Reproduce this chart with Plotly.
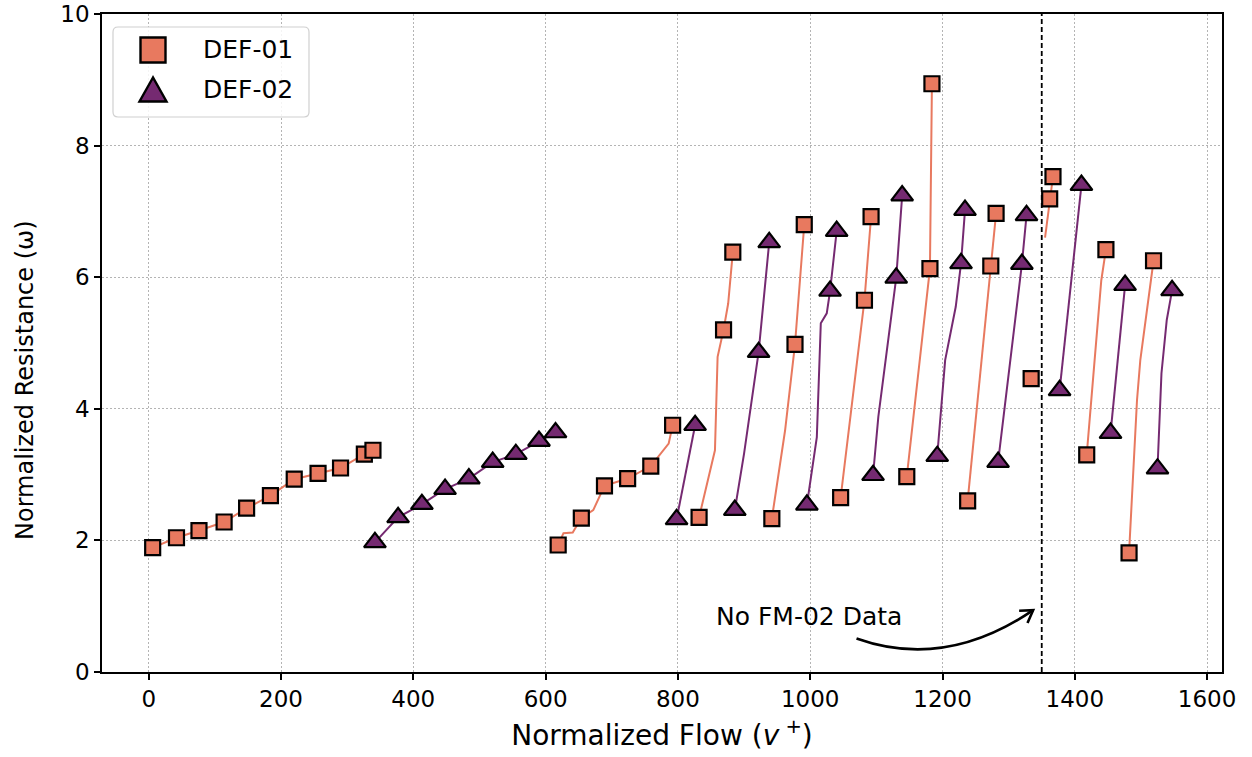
import math
import plotly.graph_objects as go

# ---------------- data ----------------
# DEF-01 marker points
def01_flow = [6, 42, 76, 114, 148, 184, 220, 256, 290, 326, 339,
              619, 654, 689, 724, 759, 792,
              832, 869, 883,
              942, 977, 991,
              1046, 1082, 1092,
              1146, 1181, 1184,
              1238, 1273, 1281,
              1334,
              1362, 1367,
              1418, 1447,
              1482, 1519]
def01_res = [1.89, 2.04, 2.15, 2.28, 2.49, 2.68, 2.93, 3.02, 3.10, 3.31, 3.37,
             1.93, 2.34, 2.83, 2.94, 3.13, 3.75,
             2.35, 5.20, 6.38,
             2.33, 4.98, 6.80,
             2.65, 5.65, 6.92,
             2.97, 6.13, 8.94,
             2.60, 6.17, 6.97,
             4.46,
             7.19, 7.53,
             3.30, 6.42,
             1.81, 6.25]

# DEF-01 continuous traces (None separates the sweeps)
def01_line_flow = [6, 42, 76, 114, 148, 184, 220, 256, 290, 326, 339, None,
                   619, 627, 641, 654, 672, 689, 724, 759, 786, 792, None,
                   832, 856, 860, 869, 876, 883, None,
                   942, 962, 977, 991, None,
                   1046, 1082, 1092, None,
                   1146, 1181, 1184, None,
                   1238, 1273, 1281, None,
                   1355, 1362, 1367, None,
                   1418, 1440, 1447, None,
                   1482, 1494, 1499, 1519]
def01_line_res = [1.89, 2.04, 2.15, 2.28, 2.49, 2.68, 2.93, 3.02, 3.10, 3.31, 3.37, None,
                  1.93, 2.11, 2.12, 2.34, 2.46, 2.83, 2.94, 3.13, 3.47, 3.75, None,
                  2.35, 3.37, 4.79, 5.20, 5.60, 6.38, None,
                  2.33, 3.67, 4.98, 6.80, None,
                  2.65, 5.65, 6.92, None,
                  2.97, 6.13, 8.94, None,
                  2.60, 6.17, 6.97, None,
                  6.60, 7.19, 7.53, None,
                  3.30, 5.95, 6.42, None,
                  1.81, 4.13, 4.74, 6.25]

# DEF-02 marker points
def02_flow = [342, 377, 413, 448, 484, 520, 555, 590, 615,
              798, 826,
              886, 922, 938,
              995, 1030, 1040,
              1095, 1130, 1139,
              1192, 1228, 1234,
              1284, 1320, 1327,
              1377, 1410,
              1454, 1476,
              1525, 1547]
def02_res = [1.97, 2.35, 2.55, 2.78, 2.94, 3.19, 3.31, 3.51, 3.64,
             2.32, 3.75,
             2.46, 4.86, 6.53,
             2.54, 5.79, 6.70,
             2.99, 5.99, 7.24,
             3.28, 6.21, 7.02,
             3.19, 6.20, 6.94,
             4.28, 7.40,
             3.63, 5.88,
             3.09, 5.80]

# DEF-02 continuous traces
def02_line_flow = [342, 377, 413, 448, 484, 520, 555, 590, 615, None,
                   798, 826, None,
                   886, 900, 922, 938, None,
                   995, 1010, 1016, 1025, 1030, 1040, None,
                   1095, 1103, 1130, 1139, None,
                   1192, 1204, 1220, 1228, 1234, None,
                   1284, 1320, 1327, None,
                   1377, 1410, None,
                   1454, 1476, None,
                   1525, 1531, 1539, 1547]
def02_line_res = [1.97, 2.35, 2.55, 2.78, 2.94, 3.19, 3.31, 3.51, 3.64, None,
                  2.32, 3.75, None,
                  2.46, 3.32, 4.86, 6.53, None,
                  2.54, 3.57, 5.30, 5.45, 5.79, 6.70, None,
                  2.99, 3.88, 5.99, 7.24, None,
                  3.28, 4.74, 5.55, 6.21, 7.02, None,
                  3.19, 6.20, 6.94, None,
                  4.28, 7.40, None,
                  3.63, 5.88, None,
                  3.09, 4.54, 5.35, 5.80]

series_names = ["DEF-01", "DEF-02"]
x_ticks = [0, 200, 400, 600, 800, 1000, 1200, 1400, 1600]
y_ticks = [0, 2, 4, 6, 8, 10]
x_range = [-70.6, 1622.5]
y_range = [0, 10]

no_data_flow = 1350
note_text = "No FM-02 Data"
note_pos = (998, 0.84)
arrow_start = (1070, 0.51)
arrow_ctrl = (1204, 0.03)
arrow_end = (1337, 0.94)

# ---------------- styling / layout constants ----------------
C1 = "#E8795F"
C2 = "#752A71"
FONT = "DejaVu Sans"
W, H = 1252, 757
ML, MR, MT, MB = 102, 30, 14, 85
PW, PH = W - ML - MR, H - MT - MB
sx = PW / (x_range[1] - x_range[0])   # px per x unit
sy = PH / (y_range[1] - y_range[0])   # px per y unit

fig = go.Figure()

fig.add_trace(go.Scatter(x=def01_line_flow, y=def01_line_res, mode="lines",
                         line=dict(color=C1, width=2), connectgaps=False,
                         showlegend=False, hoverinfo="skip"))
fig.add_trace(go.Scatter(x=def02_line_flow, y=def02_line_res, mode="lines",
                         line=dict(color=C2, width=2), connectgaps=False,
                         showlegend=False, hoverinfo="skip"))
fig.add_trace(go.Scatter(x=def01_flow, y=def01_res, mode="markers", name=series_names[0],
                         showlegend=False,
                         marker=dict(symbol="square", size=15, color=C1,
                                     line=dict(color="black", width=2.2))))
fig.add_trace(go.Scatter(x=def02_flow, y=def02_res, mode="markers", name=series_names[1],
                         showlegend=False,
                         marker=dict(symbol="triangle-up", size=19, color=C2,
                                     line=dict(color="black", width=2.2))))

# dashed vertical line
fig.add_shape(type="line", xref="x", yref="y domain", x0=no_data_flow, x1=no_data_flow,
              y0=0, y1=1, line=dict(color="black", width=1.8, dash="5px,3px"))

# curved arrow: body
fig.add_shape(type="path", xref="x", yref="y",
              path=f"M {arrow_start[0]},{arrow_start[1]} Q {arrow_ctrl[0]},{arrow_ctrl[1]} {arrow_end[0]},{arrow_end[1]}",
              line=dict(color="black", width=2.6))
# curved arrow: open chevron head, along the curve's end tangent
ux = (arrow_end[0] - arrow_ctrl[0]) * sx
uy = -(arrow_end[1] - arrow_ctrl[1]) * sy
n = math.hypot(ux, uy)
bx, by = -ux / n, -uy / n
HEAD_LEN, HEAD_ANG = 14, math.radians(32)
arms = []
for s in (1, -1):
    c, si = math.cos(s * HEAD_ANG), math.sin(s * HEAD_ANG)
    px_, py_ = HEAD_LEN * (bx * c - by * si), HEAD_LEN * (bx * si + by * c)
    arms.append((arrow_end[0] + px_ / sx, arrow_end[1] - py_ / sy))
fig.add_shape(type="path", xref="x", yref="y",
              path=f"M {arms[0][0]},{arms[0][1]} L {arrow_end[0]},{arrow_end[1]} L {arms[1][0]},{arms[1][1]}",
              line=dict(color="black", width=2.6))

fig.add_annotation(x=note_pos[0], y=note_pos[1], xref="x", yref="y", text=note_text,
                   showarrow=False, font=dict(family=FONT, size=25, color="black"))

# ---------------- custom legend (large markers, rounded box) ----------------
def px2paper(px, py):
    return (px - ML) / PW, 1 - (py - MT) / PH

LX0, LY1 = px2paper(113, 27)
LX1, LY0 = px2paper(309, 117)
rx, ry = 5 / PW, 5 / PH
fig.add_shape(type="path", xref="paper", yref="paper",
              path=(f"M {LX0+rx},{LY0} L {LX1-rx},{LY0} Q {LX1},{LY0} {LX1},{LY0+ry} "
                    f"L {LX1},{LY1-ry} Q {LX1},{LY1} {LX1-rx},{LY1} "
                    f"L {LX0+rx},{LY1} Q {LX0},{LY1} {LX0},{LY1-ry} "
                    f"L {LX0},{LY0+ry} Q {LX0},{LY0} {LX0+rx},{LY0} Z"),
              line=dict(color="#d0d0d0", width=1.2), fillcolor="rgba(255,255,255,0.85)",
              layer="above")
# square glyph
sq_cx, sq_cy, sq_h = 153, 50, 12.5
a0 = px2paper(sq_cx - sq_h, sq_cy - sq_h)
a1 = px2paper(sq_cx + sq_h, sq_cy + sq_h)
fig.add_shape(type="rect", xref="paper", yref="paper", x0=a0[0], y0=a1[1], x1=a1[0], y1=a0[1],
              line=dict(color="black", width=2.4), fillcolor=C1, layer="above")
# triangle glyph
tr_cx, tr_top, tr_bot, tr_hw = 153, 77.5, 101.5, 13.5
t_apex = px2paper(tr_cx, tr_top)
t_l = px2paper(tr_cx - tr_hw, tr_bot)
t_r = px2paper(tr_cx + tr_hw, tr_bot)
fig.add_shape(type="path", xref="paper", yref="paper",
              path=f"M {t_apex[0]},{t_apex[1]} L {t_l[0]},{t_l[1]} L {t_r[0]},{t_r[1]} Z",
              line=dict(color="black", width=2.4), fillcolor=C2, layer="above")
for name, py in zip(series_names, [50, 89]):
    lx, ly = px2paper(201, py)
    fig.add_annotation(x=lx, y=ly, xref="paper", yref="paper", text=name,
                       xanchor="left", yanchor="middle", showarrow=False,
                       font=dict(family=FONT, size=25, color="black"))

# y-axis title (placed as in the reference)
ytx, yty = px2paper(25, 380)
fig.add_annotation(x=ytx, y=yty, xref="paper", yref="paper",
                   text="Normalized Resistance (ω)", textangle=-90,
                   xanchor="center", yanchor="middle", showarrow=False,
                   font=dict(family=FONT, size=24, color="black"))

axis_common = dict(showline=True, linecolor="black", linewidth=1.5, mirror=True,
                   ticks="outside", ticklen=6, tickwidth=1.5, tickcolor="black",
                   showgrid=True, gridcolor="#b4b4b4", gridwidth=1, griddash="2px,2px",
                   zeroline=False, automargin=False,
                   tickfont=dict(family=FONT, size=23, color="black"))

fig.update_xaxes(range=x_range, tickvals=x_ticks,
                 title=dict(text="Normalized Flow (<i>v</i><sup> +</sup>)",
                            font=dict(family=FONT, size=28, color="black"), standoff=14),
                 **axis_common)
fig.update_yaxes(range=y_range, tickvals=y_ticks, **axis_common)

fig.update_layout(
    width=W, height=H,
    margin=dict(l=ML, r=MR, t=MT, b=MB),
    plot_bgcolor="white", paper_bgcolor="white",
    font=dict(family=FONT, color="black"),
    showlegend=False,
)

fig.write_html("out.html")
